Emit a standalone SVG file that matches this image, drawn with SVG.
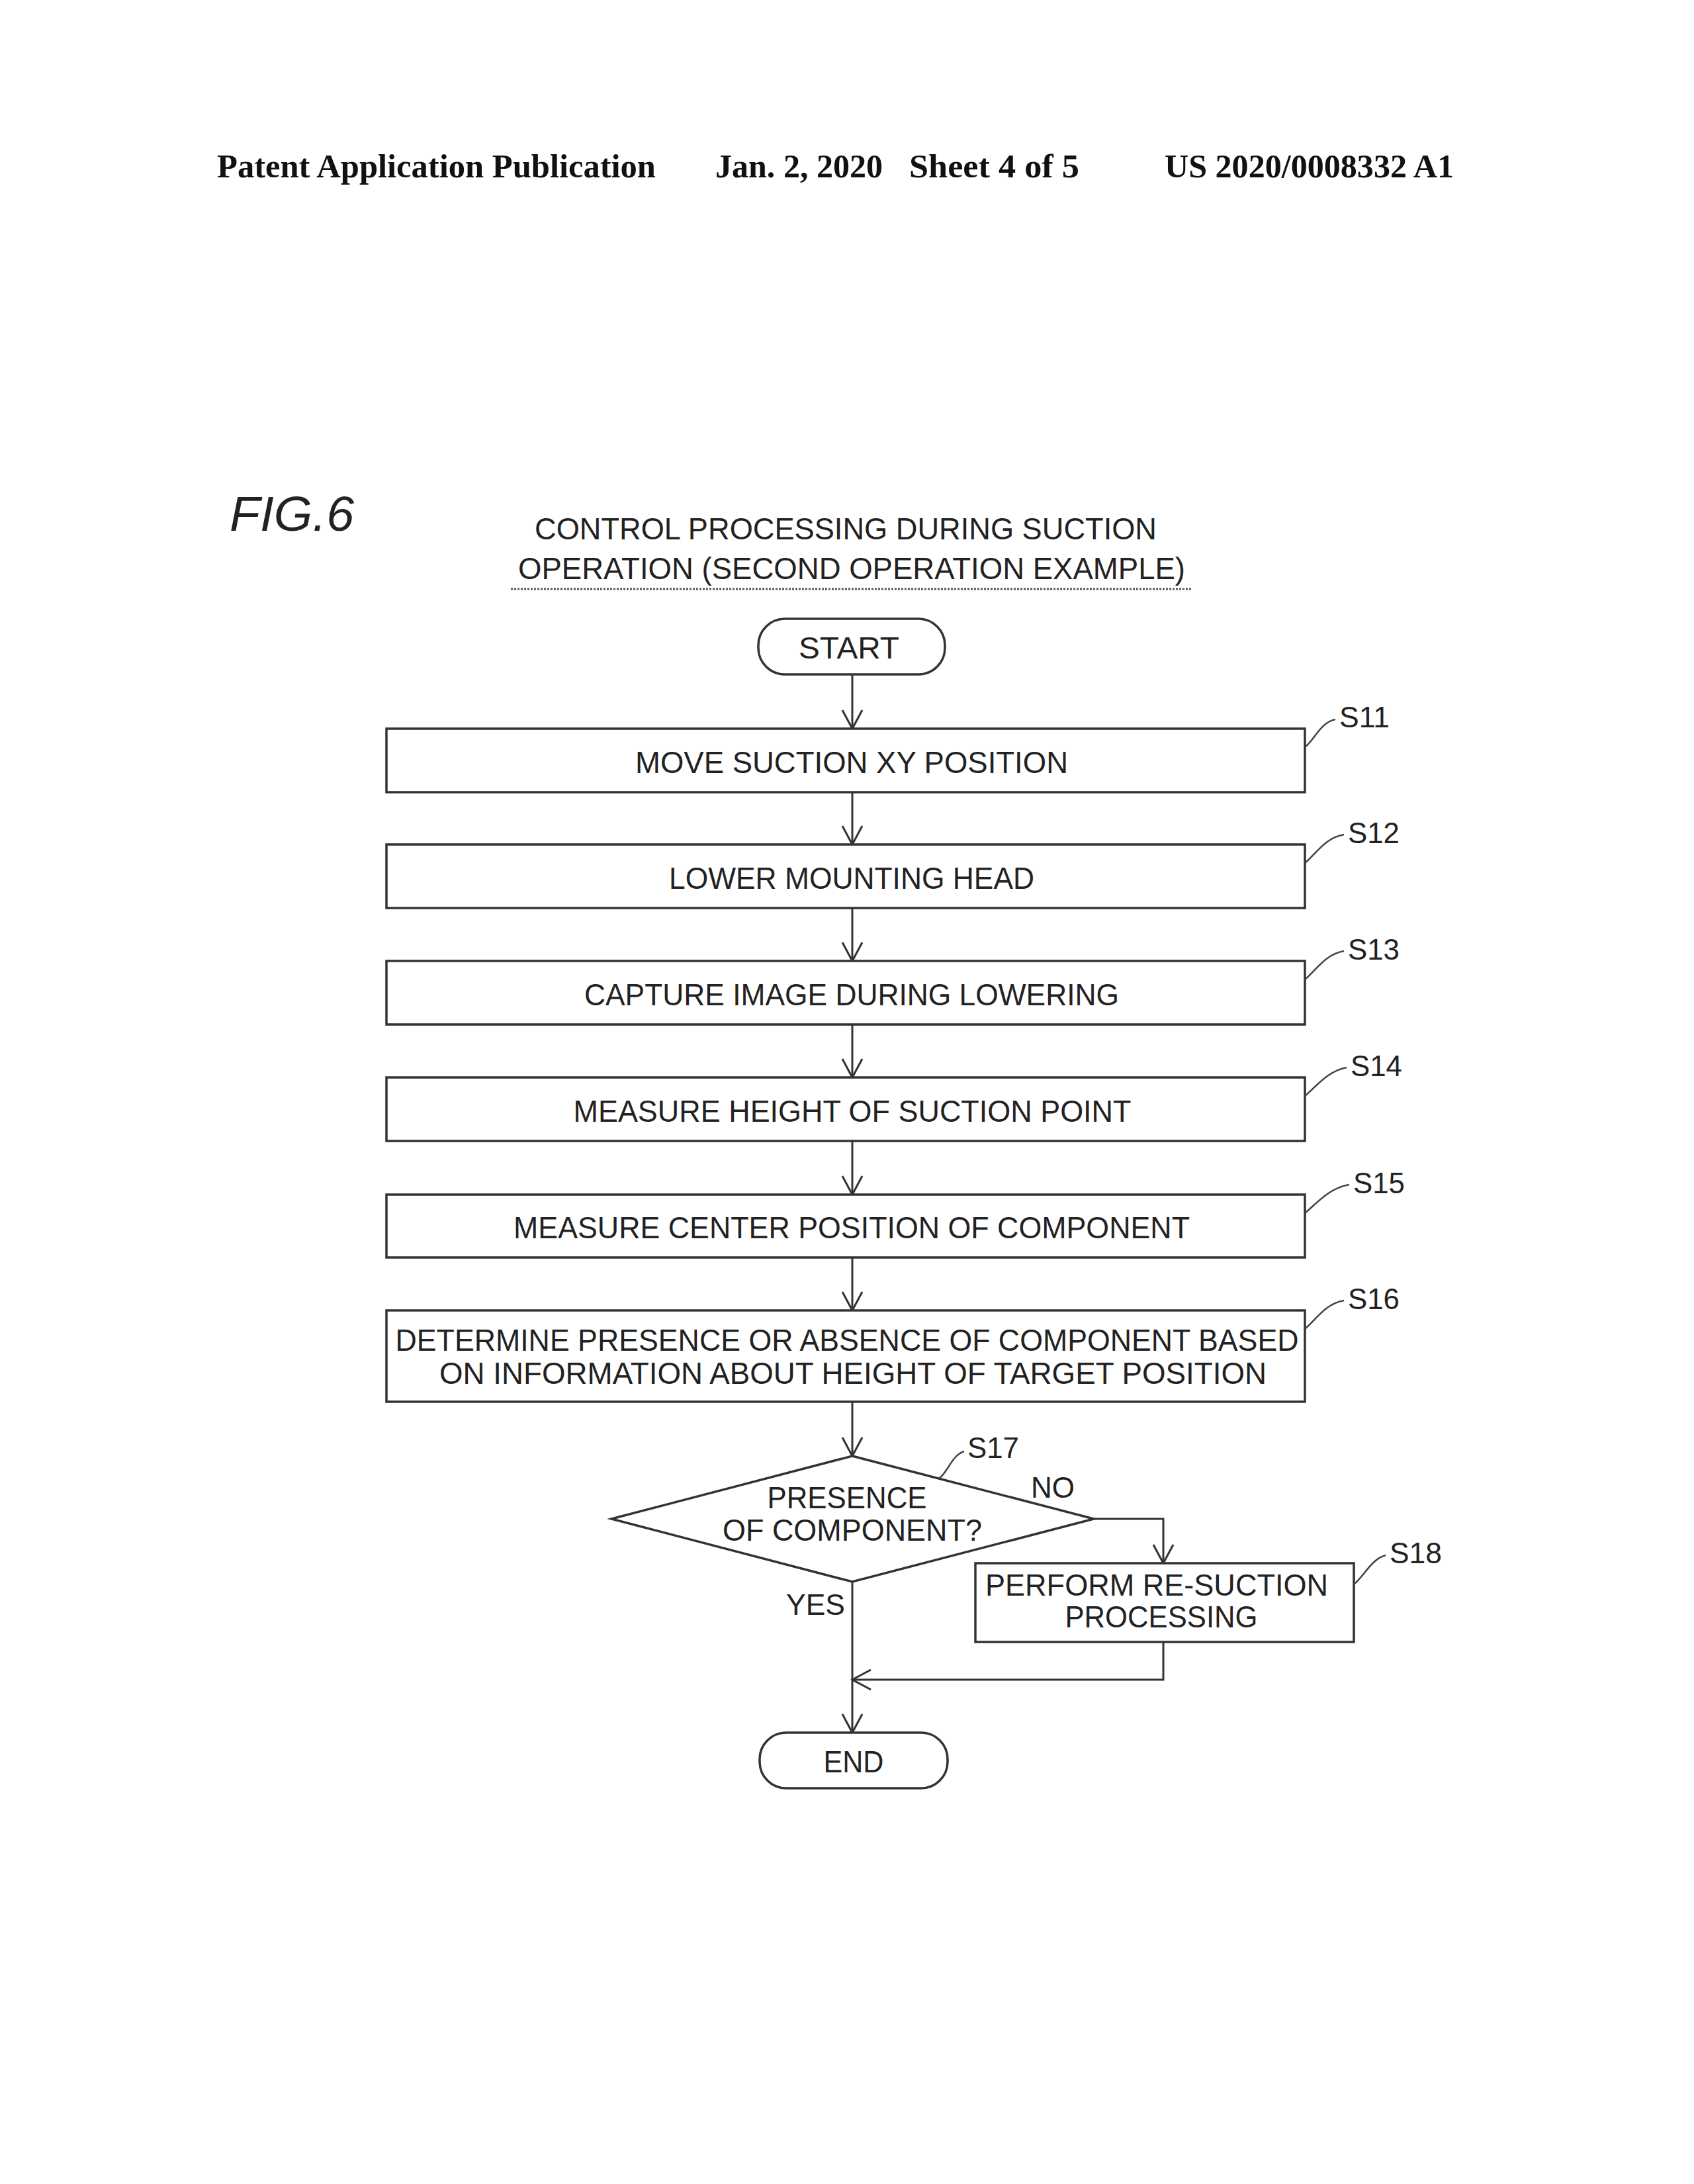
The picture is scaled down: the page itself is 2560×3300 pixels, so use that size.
<svg xmlns="http://www.w3.org/2000/svg" width="2560" height="3300" viewBox="0 0 2560 3300">
<style>
.hdr{font-family:"Liberation Serif","Times New Roman",serif;font-weight:bold;font-size:50px;fill:#111}
.t{font-family:"Liberation Sans",Arial,sans-serif;font-size:46px;fill:#222;text-anchor:middle}
.lbl{font-family:"Liberation Sans",Arial,sans-serif;font-size:44px;fill:#222}
.shape{fill:#fff;stroke:#333;stroke-width:3.5}
.ln{fill:none;stroke:#333;stroke-width:3}
.lead{fill:none;stroke:#444;stroke-width:2.5}
</style>
<defs>
<marker id="arr" markerUnits="userSpaceOnUse" markerWidth="40" markerHeight="40" viewBox="-30 -20 40 40" refX="0" refY="0" orient="auto" overflow="visible">
<path d="M-28,-15 L0,0 L-28,15" fill="none" stroke="#333" stroke-width="3"/>
</marker>
</defs>
<rect width="2560" height="3300" fill="#fff"/>
<g id="header">
<text class="hdr" x="328" y="268" textLength="663" lengthAdjust="spacingAndGlyphs">Patent Application Publication</text>
<text class="hdr" x="1081" y="268" textLength="253" lengthAdjust="spacingAndGlyphs">Jan. 2, 2020</text>
<text class="hdr" x="1374" y="268" textLength="257" lengthAdjust="spacingAndGlyphs">Sheet 4 of 5</text>
<text class="hdr" x="1760" y="268" textLength="437" lengthAdjust="spacingAndGlyphs">US 2020/0008332 A1</text>
</g>
<g id="figlabel">
<text x="347" y="802" font-family="Liberation Sans, Arial, sans-serif" font-style="italic" font-size="75" fill="#222" textLength="188" lengthAdjust="spacingAndGlyphs">FIG.6</text>
</g>
<g id="title">
<text class="t" x="1278" y="815" font-size="42" textLength="940" lengthAdjust="spacingAndGlyphs">CONTROL PROCESSING DURING SUCTION</text>
<text class="t" x="1287" y="875" font-size="42" textLength="1008" lengthAdjust="spacingAndGlyphs">OPERATION (SECOND OPERATION EXAMPLE)</text>
<line x1="772" y1="890" x2="1800" y2="890" stroke="#555" stroke-width="3" stroke-dasharray="3 2"/>
</g>
<g id="connectors">
<line class="ln" x1="1288" y1="1019" x2="1288" y2="1101" marker-end="url(#arr)"/>
<line class="ln" x1="1288" y1="1197" x2="1288" y2="1276" marker-end="url(#arr)"/>
<line class="ln" x1="1288" y1="1372" x2="1288" y2="1452" marker-end="url(#arr)"/>
<line class="ln" x1="1288" y1="1548" x2="1288" y2="1628" marker-end="url(#arr)"/>
<line class="ln" x1="1288" y1="1724" x2="1288" y2="1805" marker-end="url(#arr)"/>
<line class="ln" x1="1288" y1="1900" x2="1288" y2="1980" marker-end="url(#arr)"/>
<line class="ln" x1="1288" y1="2118" x2="1288" y2="2200" marker-end="url(#arr)"/>
<polyline class="ln" points="1653,2295 1758,2295 1758,2362" marker-end="url(#arr)"/>
<polyline class="ln" points="1758,2481 1758,2538 1288,2538" marker-end="url(#arr)"/>
<line class="ln" x1="1288" y1="2390" x2="1288" y2="2618" marker-end="url(#arr)"/>
</g>
<g id="start">
<rect class="shape" x="1146" y="935" width="282" height="84" rx="40"/>
<text class="t" x="1283" y="995" textLength="152" lengthAdjust="spacingAndGlyphs">START</text>
</g>
<g id="s11">
<rect class="shape" x="584" y="1101" width="1388" height="96"/>
<text class="t" x="1287" y="1168" textLength="654" lengthAdjust="spacingAndGlyphs">MOVE SUCTION XY POSITION</text>
<path class="lead" d="M1972,1129 C1988,1116 1995,1092 2018,1087"/>
<text class="lbl" x="2024" y="1099" textLength="76" lengthAdjust="spacingAndGlyphs">S11</text>
</g>
<g id="s12">
<rect class="shape" x="584" y="1276" width="1388" height="96"/>
<text class="t" x="1287" y="1343" textLength="552" lengthAdjust="spacingAndGlyphs">LOWER MOUNTING HEAD</text>
<path class="lead" d="M1972,1304 C1988,1291 2002,1266 2031,1261"/>
<text class="lbl" x="2037" y="1274" textLength="78" lengthAdjust="spacingAndGlyphs">S12</text>
</g>
<g id="s13">
<rect class="shape" x="584" y="1452" width="1388" height="96"/>
<text class="t" x="1287" y="1519" textLength="808" lengthAdjust="spacingAndGlyphs">CAPTURE IMAGE DURING LOWERING</text>
<path class="lead" d="M1972,1480 C1988,1467 2002,1442 2031,1437"/>
<text class="lbl" x="2037" y="1450" textLength="78" lengthAdjust="spacingAndGlyphs">S13</text>
</g>
<g id="s14">
<rect class="shape" x="584" y="1628" width="1388" height="96"/>
<text class="t" x="1288" y="1695" textLength="843" lengthAdjust="spacingAndGlyphs">MEASURE HEIGHT OF SUCTION POINT</text>
<path class="lead" d="M1972,1656 C1988,1643 2006,1618 2035,1613"/>
<text class="lbl" x="2041" y="1626" textLength="78" lengthAdjust="spacingAndGlyphs">S14</text>
</g>
<g id="s15">
<rect class="shape" x="584" y="1805" width="1388" height="95"/>
<text class="t" x="1287" y="1871" textLength="1022" lengthAdjust="spacingAndGlyphs">MEASURE CENTER POSITION OF COMPONENT</text>
<path class="lead" d="M1972,1833 C1988,1820 2008,1795 2039,1790"/>
<text class="lbl" x="2045" y="1803" textLength="78" lengthAdjust="spacingAndGlyphs">S15</text>
</g>
<g id="s16">
<rect class="shape" x="584" y="1980" width="1388" height="138"/>
<text class="t" x="1280" y="2041" textLength="1365" lengthAdjust="spacingAndGlyphs">DETERMINE PRESENCE OR ABSENCE OF COMPONENT BASED</text>
<text class="t" x="1289" y="2091" textLength="1250" lengthAdjust="spacingAndGlyphs">ON INFORMATION ABOUT HEIGHT OF TARGET POSITION</text>
<path class="lead" d="M1972,2008 C1988,1995 2002,1970 2031,1965"/>
<text class="lbl" x="2037" y="1978" textLength="78" lengthAdjust="spacingAndGlyphs">S16</text>
</g>
<g id="s17">
<polygon class="shape" points="1288,2200 1653,2295 1288,2390 924,2295"/>
<text class="t" x="1280" y="2279" textLength="241" lengthAdjust="spacingAndGlyphs">PRESENCE</text>
<text class="t" x="1288" y="2328" textLength="392" lengthAdjust="spacingAndGlyphs">OF COMPONENT?</text>
<path class="lead" d="M1419,2234 C1433,2224 1438,2199 1457,2193"/>
<text class="lbl" x="1462" y="2203" textLength="78" lengthAdjust="spacingAndGlyphs">S17</text>
<text class="lbl" x="1558" y="2263" textLength="66" lengthAdjust="spacingAndGlyphs">NO</text>
<text class="lbl" x="1188" y="2440" textLength="89" lengthAdjust="spacingAndGlyphs">YES</text>
</g>
<g id="s18">
<rect class="shape" x="1474" y="2362" width="572" height="119"/>
<text class="t" x="1748" y="2411" textLength="518" lengthAdjust="spacingAndGlyphs">PERFORM RE-SUCTION</text>
<text class="t" x="1755" y="2459" textLength="291" lengthAdjust="spacingAndGlyphs">PROCESSING</text>
<path class="lead" d="M2046,2394 C2062,2381 2072,2356 2094,2350"/>
<text class="lbl" x="2100" y="2362" textLength="79" lengthAdjust="spacingAndGlyphs">S18</text>
</g>
<g id="end">
<rect class="shape" x="1148" y="2618" width="284" height="84" rx="40"/>
<text class="t" x="1290" y="2678" textLength="91" lengthAdjust="spacingAndGlyphs">END</text>
</g>
</svg>
